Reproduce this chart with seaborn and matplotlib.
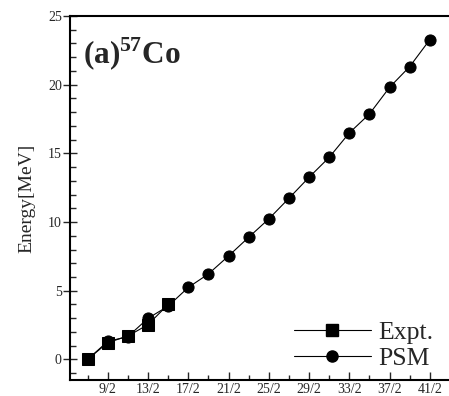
import matplotlib
matplotlib.use("Agg")
import matplotlib.pyplot as plt
import seaborn as sns
import pandas as pd
from matplotlib.ticker import MultipleLocator, FixedLocator
from matplotlib.lines import Line2D

sns.set_style("ticks")
plt.rcParams['font.family'] = ['Liberation Serif', 'DejaVu Serif']
plt.rcParams['mathtext.fontset'] = 'custom'
plt.rcParams['mathtext.rm'] = 'Liberation Serif'
plt.rcParams['mathtext.bf'] = 'Liberation Serif:bold'

# Data
psm_spin = [3.5, 4.5, 5.5, 6.5, 7.5, 8.5, 9.5, 10.5, 11.5, 12.5, 13.5, 14.5,
            15.5, 16.5, 17.5, 18.5, 19.5, 20.5]
psm_energy = [0.0, 1.31, 1.66, 2.99, 3.88, 5.24, 6.22, 7.53, 8.89, 10.23, 11.73,
              13.26, 14.71, 16.49, 17.87, 19.81, 21.32, 23.28]
expt_spin = [3.5, 4.5, 5.5, 6.5, 7.5]
expt_energy = [0.0, 1.22, 1.70, 2.53, 4.00]
tick_labels = ["9/2", "13/2", "17/2", "21/2", "25/2", "29/2", "33/2", "37/2", "41/2"]

df_psm = pd.DataFrame({"spin": psm_spin, "E": psm_energy})
df_expt = pd.DataFrame({"spin": expt_spin, "E": expt_energy})

fig = plt.figure(figsize=(4.49, 3.96), dpi=100)
ax = fig.add_axes([69.5/449, 1-380/396, 1-69.5/449, (380-16)/396])

sns.lineplot(data=df_psm, x="spin", y="E", ax=ax, color="black", marker="o",
             markersize=8, linewidth=0.8, markeredgecolor="black", zorder=2)
sns.lineplot(data=df_expt, x="spin", y="E", ax=ax, color="black", marker="s",
             markersize=8, linewidth=0.8, markeredgecolor="black", zorder=3)

ax.set_xlim(2.6, 21.45)
ax.set_ylim(-1.5, 25)

major = [4.5 + 2*i for i in range(len(tick_labels))]
ax.xaxis.set_major_locator(FixedLocator(major))
ax.set_xticklabels(tick_labels)
ax.xaxis.set_minor_locator(FixedLocator([3.5 + 2*i for i in range(9)]))
ax.yaxis.set_major_locator(MultipleLocator(5))
ax.yaxis.set_minor_locator(MultipleLocator(1))

ax.tick_params(axis='x', which='major', direction='in', length=6, width=1,
               labelsize=10, pad=2)
ax.tick_params(axis='x', which='minor', direction='in', length=3.5, width=1)
ax.tick_params(axis='y', which='major', direction='inout', length=10, width=1,
               labelsize=10, pad=0.5)
ax.tick_params(axis='y', which='minor', direction='in', length=4, width=1)

for s in ["left", "bottom", "top"]:
    ax.spines[s].set_linewidth(1.5)
    ax.spines[s].set_color("black")
ax.spines["right"].set_visible(False)

ax.set_xlabel("")
ax.set_ylabel("Energy[MeV]", fontsize=14, labelpad=9)

ax.text(0.035, 0.945, r"(a)$^{\mathbf{57}}$Co", transform=ax.transAxes,
        fontsize=22.5, fontweight="bold", ha="left", va="top")

handles = [
    Line2D([], [], color="black", marker="s", markersize=8, linewidth=0.8),
    Line2D([], [], color="black", marker="o", markersize=8, linewidth=0.8),
]
ax.legend(handles, ["Expt.", "PSM"], loc="lower right", frameon=False,
          fontsize=18.5, handlelength=3.0, handletextpad=0.3, labelspacing=0.1,
          bbox_to_anchor=(1.0, -0.015), borderaxespad=0.2)

fig.savefig("out.png", dpi=100)
